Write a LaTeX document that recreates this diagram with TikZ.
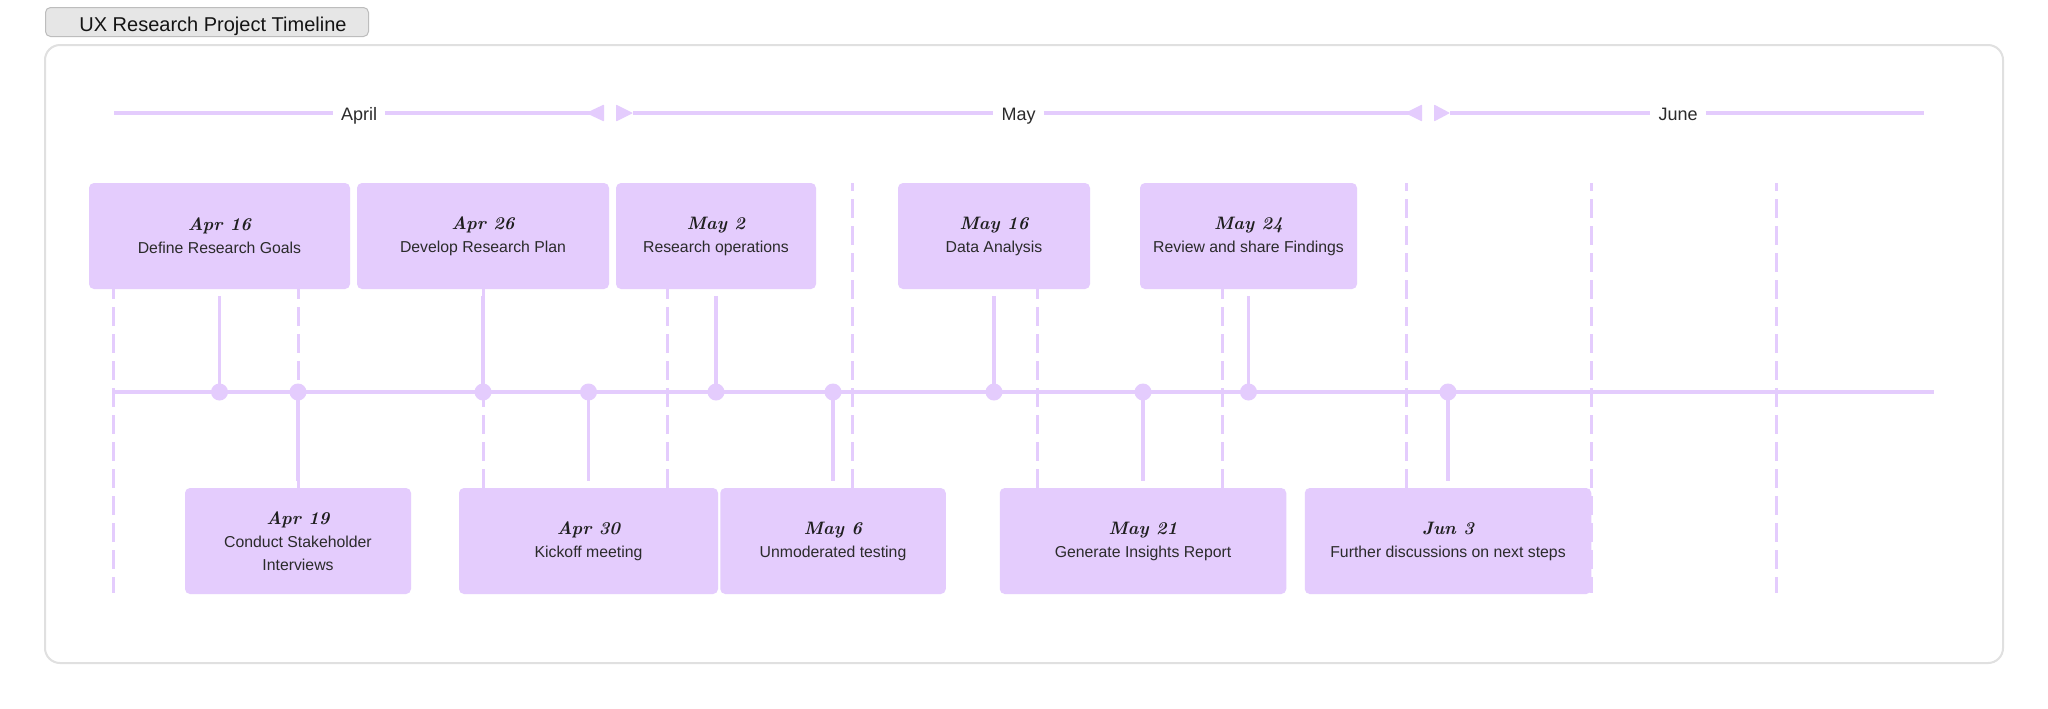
\documentclass[tikz,border=0pt]{standalone}
\usepackage{fontspec}
\setsansfont{Liberation Sans}
\usetikzlibrary{calc}
\definecolor{lav}{HTML}{E4CCFD}
\definecolor{txtc}{HTML}{2B2B2B}
\definecolor{frameg}{HTML}{E0E0E0}
\definecolor{titlefill}{HTML}{E6E6E6}
\definecolor{titledraw}{HTML}{BDBDBD}
\newcommand\mydatef{\rmfamily\bfseries\itshape\fontsize{9}{11}\selectfont\color{black!88}}
\begin{document}
\begin{tikzpicture}[x=0.5pt,y=-0.5pt,
  evbox/.style={fill=lav, rounded corners=2.5pt, inner sep=0pt, align=center,
    font=\sffamily\fontsize{7.9}{11.5}\selectfont, text=txtc, minimum height=53pt},
  gridline/.style={draw=lav, line width=1.5pt, dash pattern=on 9.5pt off 4pt, dash phase=5.3pt},
  link/.style={draw=lav, line width=1.7pt},
  mline/.style={draw=lav, line width=1.6pt},
  dotm/.style={circle, fill=lav, minimum size=8.5pt, inner sep=0pt},
  month/.style={font=\sffamily\fontsize{9}{11}\selectfont, text=txtc, inner xsep=4pt, anchor=base},
  titlebox/.style={fill=titlefill, draw=titledraw, line width=0.5pt, rounded corners=2.5pt, inner sep=0pt}
]
\useasboundingbox (0,0) rectangle (2048,708);
\fill[white] (0,0) rectangle (2048,708);
% frame
\draw[draw=frameg, line width=1pt, rounded corners=7.5pt] (45,45) rectangle (2003,663);
% title
\node[titlebox, anchor=north west, minimum width=161.5pt, minimum height=14.5pt] (title) at (45,7) {};
\node[anchor=base west, inner sep=0pt, font=\sffamily\fontsize{10}{12}\selectfont, text=black!92] (titletxt) at (79,31.5) {UX Research Project Timeline};
% weekly grid
\foreach \gx in {113.5,298,483,667.5,852.5,1037,1222,1406,1591,1776.5}
  \draw[gridline] (\gx,183) -- (\gx,593);
% month row
\coordinate (m0) at (114,113);
\coordinate (m1) at (604,113);
\coordinate (m2) at (633,113);
\coordinate (m3) at (1422,113);
\coordinate (m4) at (1450,113);
\coordinate (m5) at (1924,113);
\node[month] (apr) at (359,120) {April};
\node[month] (may) at (1018.5,120) {May};
\node[month] (jun) at (1678,120) {June};
\draw[mline] (m0) -- (apr.west |- m0);
\draw[mline] (apr.east |- m0) -- (m1);
\draw[mline] (m2) -- (may.west |- m0);
\draw[mline] (may.east |- m0) -- (m3);
\draw[mline] (m4) -- (jun.west |- m0);
\draw[mline] (jun.east |- m0) -- (m5);
\fill[lav, rounded corners=0.4pt] (604,104.5) -- (586,113) -- (604,121.5) -- cycle;
\fill[lav, rounded corners=0.4pt] (616,104.5) -- (633,113) -- (616,121.5) -- cycle;
\fill[lav, rounded corners=0.4pt] (1422,104.5) -- (1405,113) -- (1422,121.5) -- cycle;
\fill[lav, rounded corners=0.4pt] (1434,104.5) -- (1450,113) -- (1434,121.5) -- cycle;
% top events
\node[evbox, minimum width=130.5pt] (e1) at (219.5,236) {{\mydatef Apr 16}\\Define Research Goals};
\node[evbox, minimum width=126pt] (e3) at (483,236) {{\mydatef Apr 26}\\Develop Research Plan};
\node[evbox, minimum width=100pt] (e5) at (716,236) {{\mydatef May 2}\\Research operations};
\node[evbox, minimum width=96pt] (e7) at (994,236) {{\mydatef May 16}\\Data Analysis};
\node[evbox, minimum width=108.5pt] (e9) at (1248.5,236) {{\mydatef May 24}\\Review and share Findings};
% bottom events
\node[evbox, minimum width=113pt] (e2) at (298,541) {{\mydatef Apr 19}\\Conduct Stakeholder\\Interviews};
\node[evbox, minimum width=129.5pt] (e4) at (588.5,541) {{\mydatef Apr 30}\\Kickoff meeting};
\node[evbox, minimum width=112.75pt] (e6) at (833,541) {{\mydatef May 6}\\Unmoderated testing};
\node[evbox, minimum width=143.25pt] (e8) at (1143,541) {{\mydatef May 21}\\Generate Insights Report};
\node[evbox, minimum width=143.25pt] (e10) at (1448,541) {{\mydatef Jun 3}\\Further discussions on next steps};
% timeline
\coordinate (t0) at (113.5,392);
\coordinate (t1) at (1934,392);
\draw[link] (t0) -- (t1);
% connectors and dots
\foreach \e in {e1,e3,e5,e7,e9}{
  \draw[link] ([yshift=-3.5pt]\e.south) -- (\e.south |- t0);
}
\foreach \e in {e2,e4,e6,e8,e10}{
  \draw[link] (\e.north |- t0) -- ([yshift=3.5pt]\e.north);
}
\foreach \e in {e1,e2,e3,e4,e5,e6,e7,e8,e9,e10}{
  \node[dotm] (d\e) at (\e.south |- t0) {};
}
\end{tikzpicture}
\end{document}
